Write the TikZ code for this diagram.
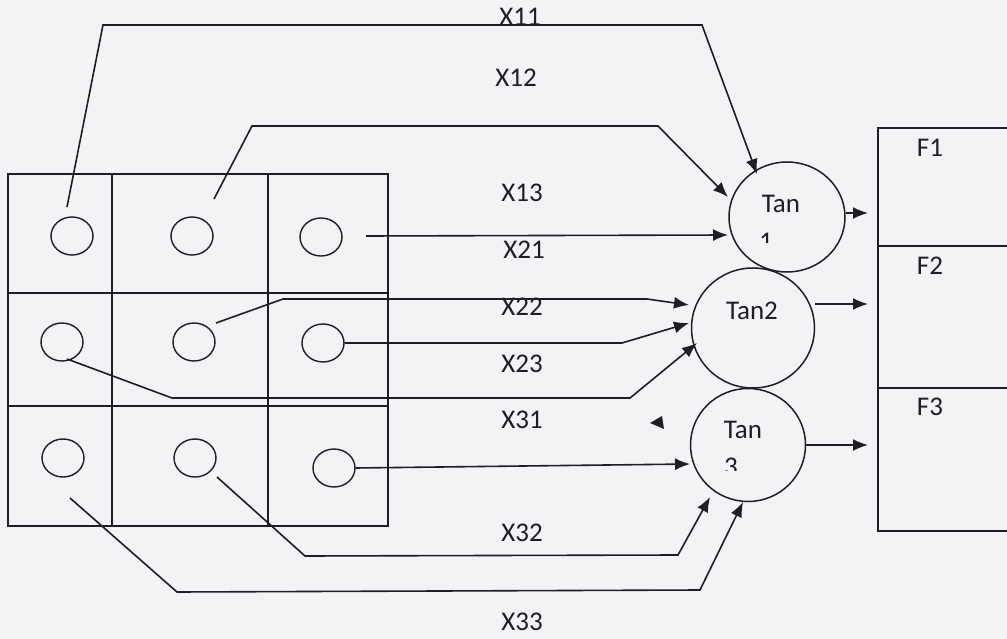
\documentclass[tikz,border=0pt]{standalone}
\usepackage{fontspec}
\setmainfont{Carlito}
\usetikzlibrary{arrows.meta,shapes.geometric,calc}
\definecolor{paper}{RGB}{243,243,245}
\definecolor{ink}{RGB}{30,30,35}
\begin{document}
\begin{tikzpicture}[x=1pt,y=-1pt,
  every node/.style={text=ink},
  gridline/.style={draw=ink,line width=1.3pt},
  inp/.style={ellipse,draw=ink,line width=1.4pt,minimum width=42pt,minimum height=38pt,inner sep=0pt},
  tan/.style={ellipse,draw=ink,line width=1.5pt,inner sep=0pt},
  wire/.style={draw=ink,line width=1.6pt},
  arr/.style={wire,-{Latex[length=15pt,width=12pt]}},
  lbl/.style={inner sep=0pt,font=\fontsize{27}{32}\selectfont}]
\clip (0,0) rectangle (1007,639);
\fill[paper] (0,0) rectangle (1007,639);
% grid
\draw[gridline] (8,174) rectangle (388,526);
\draw[gridline] (112,174) -- (112,526);
\draw[gridline] (268,174) -- (268,526);
\draw[gridline] (8,293) -- (388,293);
\draw[gridline] (8,406) -- (388,406);
% input cells
\node[inp] (c11) at (72,236) {};
\node[inp] (c12) at (192,236) {};
\node[inp] (c13) at (321,237) {};
\node[inp] (c21) at (62,342) {};
\node[inp] (c22) at (194,342) {};
\node[inp] (c23) at (323,343) {};
\node[inp] (c31) at (63,458) {};
\node[inp] (c32) at (195,458) {};
\node[inp] (c33) at (334,468) {};
% neurons
\node[tan,minimum width=116pt,minimum height=110pt] (t1) at (787,217) {};
\node[tan,minimum width=123pt,minimum height=120pt] (t2) at (753,328) {};
\node[tan,minimum width=115pt,minimum height=113pt] (t3) at (748,445) {};
\node[lbl] (t1a) at (781,204) {Tan};
\begin{scope}
\clip (740,225) rectangle (800,243);
\node[lbl] (t1b) at (766,241.5) {1};
\end{scope}
\node[lbl] (t2a) at (752,311) {Tan2};
\node[lbl] (t3a) at (743,430) {Tan};
\begin{scope}
\clip (700,452) rectangle (770,470);
\node[lbl] (t3b) at (731,466.5) {3};
\end{scope}
% output box
\draw[gridline] (1015,128) -- (878,128) -- (878,531) -- (1015,531);
\draw[gridline] (878,246) -- (1015,246);
\draw[gridline] (878,388) -- (1015,388);
\node[lbl] (f1) at (930,148) {F1};
\node[lbl] (f2) at (930,266) {F2};
\node[lbl] (f3) at (930,407) {F3};
\coordinate (o1) at (868,213);
\coordinate (o2) at (868,304);
\coordinate (o3) at (868,445);
% connector coordinates
\coordinate (s11) at (67,207);
\coordinate (e11) at (757,174);
\coordinate (s12) at (214,199);
\coordinate (e12) at (728,197);
\coordinate (s13) at (366,236);
\coordinate (e13) at (728,235);
\coordinate (s21) at (216,323);
\coordinate (e21) at (689,305);
\coordinate (e22) at (689,323);
\coordinate (s23) at (67,359);
\coordinate (e23) at (697,343);
\coordinate (e31) at (690,464);
\coordinate (s32) at (217,477);
\coordinate (e32) at (710,497);
\coordinate (s33) at (70,498);
\coordinate (e33) at (743,502);
% connectors
\draw[arr] (s11) -- (103,25) -- (702,25) -- (e11);
\draw[arr] (s12) -- (252,126) -- (658,126) -- (e12);
\draw[arr] (s13) -- (e13);
\draw[arr] (s21) -- (283,299) -- (647,299) -- (e21);
\draw[arr] (c23.east) -- (622,343) -- (e22);
\draw[arr] (s23) -- (172,398) -- (630,398) -- (e23);
\draw[arr] (c33.east) -- (e31);
\draw[arr] (s32) -- (305,556) -- (678,555) -- (e32);
\draw[arr] (s33) -- (177,592) -- (700,590) -- (e33);
\draw[arr] (t1.east) ++(0,-4) -- (o1);
\draw[arr] (815,304) -- (o2);
\draw[arr] (t3.east) -- (o3);
% stray arrowhead fragment
\fill[ink] (650,423) -- (662,416) -- (664,429) -- cycle;
% labels
\node[lbl] (x11) at (520,17) {X11};
\node[lbl] (x12) at (516,78) {X12};
\node[lbl] (x13) at (522,193) {X13};
\node[lbl] (x21) at (524,250) {X21};
\node[lbl] (x22) at (522,307) {X22};
\node[lbl] (x23) at (522,364) {X23};
\node[lbl] (x31) at (522,420) {X31};
\node[lbl] (x32) at (522,533) {X32};
\node[lbl] (x33) at (522,622) {X33};
\end{tikzpicture}
\end{document}
